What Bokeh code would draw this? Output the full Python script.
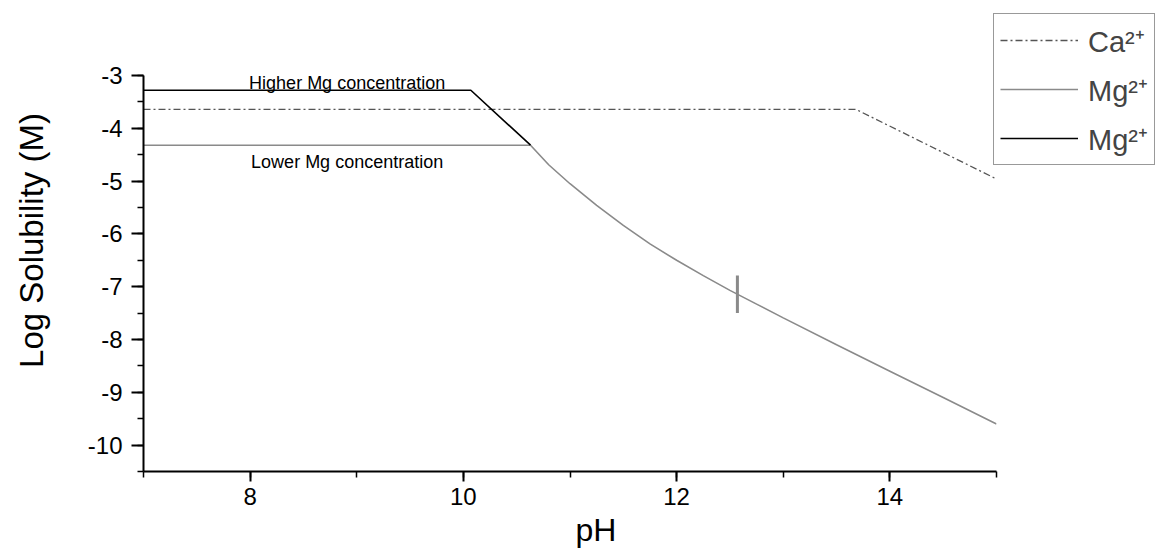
from bokeh.plotting import figure
from bokeh.models import Legend, LegendItem, Range1d, SingleIntervalTicker, Title
from bokeh.core.properties import value
from bokeh.embed import file_html
from bokeh.resources import INLINE

# ---- data ----
ca_ph = [7.0, 13.68, 15.0]
ca_log = [-3.64, -3.64, -4.96]

mg_high_ph = [7.0, 10.07, 10.63]
mg_high_log = [-3.28, -3.28, -4.32]

mg_low_ph = [7.0, 10.63, 10.8, 11.0, 11.25, 11.5, 11.75, 12.0, 12.25, 12.5,
             12.75, 13.0, 13.5, 14.0, 14.5, 15.0]
mg_low_log = [-4.32, -4.32, -4.69, -5.05, -5.46, -5.84, -6.19, -6.50, -6.79,
              -7.07, -7.33, -7.59, -8.10, -8.60, -9.10, -9.60]

marker_ph = [12.57]
marker_top = [-6.79]
marker_bottom = [-7.50]

note_text = ["Higher Mg concentration", "Lower Mg concentration"]
note_ph = [8.91, 8.91]
note_log = [-3.15, -4.63]

y_ticks = [-10, -9, -8, -7, -6, -5, -4, -3]
y_tick_labels = ["-10", "-9", "-8", "-7", "-6", "-5", "-4", "-3"]

legend_labels = ["Ca\u00b2\u207a", "Mg\u00b2\u207a", "Mg\u00b2\u207a"]

FONT = "Liberation Sans"

p = figure(frame_width=853, frame_height=396, output_backend="svg", toolbar_location=None,
           x_range=Range1d(7, 15), y_range=Range1d(-10.5, -3),
           min_border_left=143, min_border_right=165, min_border_top=75,
           min_border_bottom=87)
p.outline_line_color = None
p.xgrid.visible = False
p.ygrid.visible = False
p.background_fill_color = "white"
p.border_fill_color = "white"

r_ca = p.line(ca_ph, ca_log, line_color="#555555", line_width=1.3, line_dash="7 3 2 3")
r_low = p.line(mg_low_ph, mg_low_log, line_color="#8a8a8a", line_width=1.6)
r_high = p.line(mg_high_ph, mg_high_log, line_color="#000000", line_width=1.6)
p.segment(x0=marker_ph, y0=marker_top, x1=marker_ph, y1=marker_bottom,
          line_color="#8a8a8a", line_width=3)

p.text(x=note_ph, y=note_log, text=note_text, text_font=value(FONT),
       text_font_size="18px", text_align="center", text_baseline="alphabetic",
       text_color="#000000")

# axes
p.xaxis.ticker = SingleIntervalTicker(interval=2, num_minor_ticks=2)
p.yaxis.ticker = SingleIntervalTicker(interval=1, num_minor_ticks=2)
p.yaxis.major_label_overrides = dict(zip(y_ticks, y_tick_labels))
for ax in (p.xaxis[0], p.yaxis[0]):
    ax.axis_line_width = 2
    ax.axis_line_color = "black"
    ax.major_tick_line_width = 2
    ax.minor_tick_line_width = 1.5
    ax.major_tick_in = 0
    ax.minor_tick_in = 0
    ax.minor_tick_out = 6
    ax.major_label_text_font = FONT
    ax.major_label_text_font_size = "24px"
    ax.major_label_text_color = "black"
    ax.axis_label_text_font = FONT
    ax.axis_label_text_font_style = "normal"
    ax.axis_label_text_color = "black"
p.xaxis.major_tick_out = 10
p.yaxis.major_tick_out = 12
p.xaxis.major_label_standoff = 6
p.yaxis.major_label_standoff = 9

# y title: two leading em spaces shift it upward, as in the reference
p.yaxis.axis_label = "\u2003\u2003Log Solubility (M)"
p.yaxis.axis_label_text_font_size = "33px"
p.yaxis.axis_label_standoff = 35

# x title, shifted right like the reference
p.add_layout(Title(text="pH", align="left", offset=432, text_font=FONT,
                   text_font_size="32px", text_font_style="normal",
                   text_color="black", standoff=4), "below")

legend = Legend(items=[LegendItem(label=legend_labels[0], renderers=[r_ca]),
                       LegendItem(label=legend_labels[1], renderers=[r_low]),
                       LegendItem(label=legend_labels[2], renderers=[r_high])],
                location=(-3, 306))
legend.label_text_font = FONT
legend.label_text_font_size = "29px"
legend.glyph_width = 78
legend.glyph_height = 40
legend.label_height = 40
legend.spacing = 9
legend.padding = 6
legend.margin = 0
legend.label_standoff = 10
legend.border_line_color = "#333333"
legend.border_line_width = 1
legend.background_fill_alpha = 1
p.add_layout(legend, "right")

open("out.html", "w").write(file_html(p, INLINE))
